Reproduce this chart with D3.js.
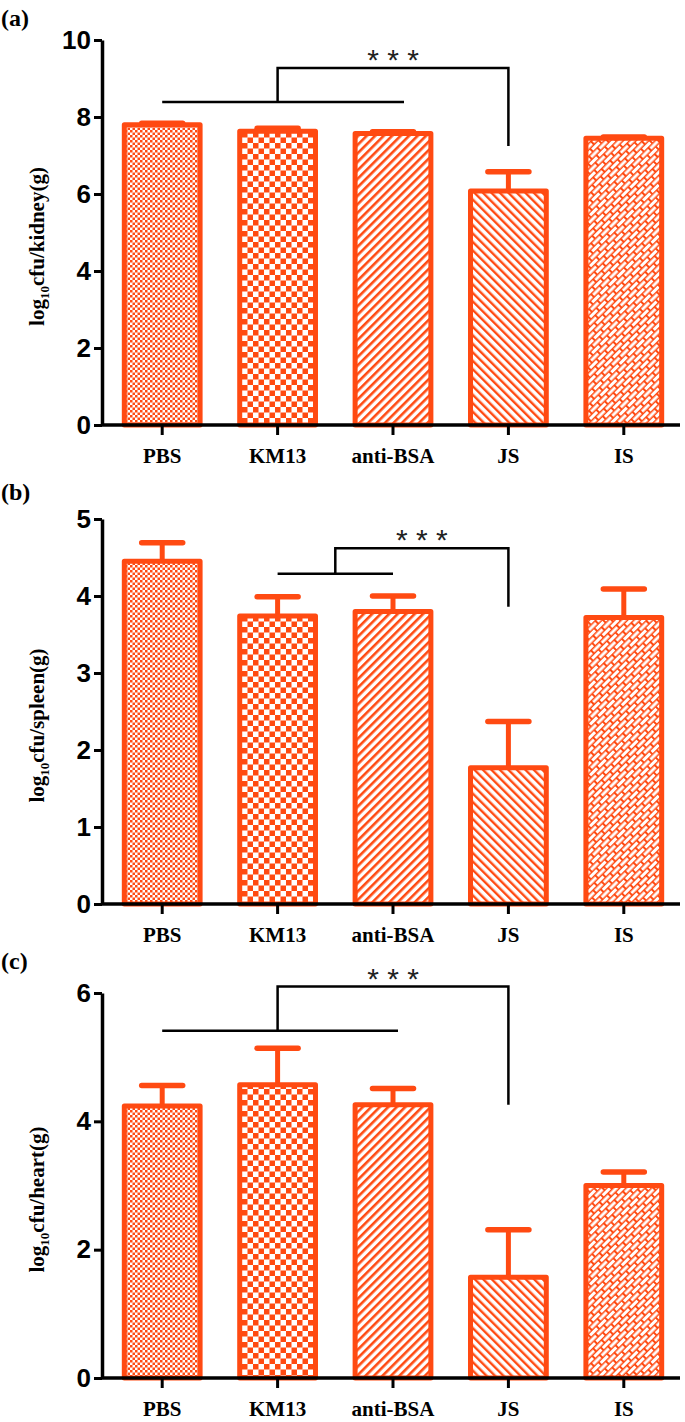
<!DOCTYPE html>
<html>
<head>
<meta charset="utf-8">
<script src="https://cdn.jsdelivr.net/npm/d3@7"></script>
<style>
  body { margin: 0; background: #fff; }
  svg { display: block; }
</style>
</head>
<body>
<svg id="chart" width="685" height="1422"></svg>
<script>
// ---------------- DATA ----------------
const categories = ["PBS", "KM13", "anti-BSA", "JS", "IS"];

const kidneyMeans = [7.80, 7.63, 7.57, 6.08, 7.45];
const kidneyErrors = [0.04, 0.08, 0.05, 0.50, 0.03];
const kidneyTicks = [0, 2, 4, 6, 8, 10];

const spleenMeans = [4.45, 3.74, 3.80, 1.77, 3.72];
const spleenErrors = [0.24, 0.25, 0.20, 0.60, 0.37];
const spleenTicks = [0, 1, 2, 3, 4, 5];

const heartMeans = [4.24, 4.57, 4.26, 1.57, 3.00];
const heartErrors = [0.32, 0.57, 0.25, 0.74, 0.21];
const heartTicks = [0, 2, 4, 6];

// significance brackets: group (from..to) vs target, heights in data units
const kidneyBracket = { from: "PBS", to: "anti-BSA", target: "JS", low: 8.39, high: 9.27, end: 7.25, label: "* * *" };
const spleenBracket = { from: "KM13", to: "anti-BSA", target: "JS", low: 4.29, high: 4.62, end: 3.86, label: "* * *" };
const heartBracket  = { from: "PBS", to: "anti-BSA", target: "JS", low: 5.41, high: 6.10, end: 4.26, label: "* * *" };

// ---------------- STYLE / LAYOUT ----------------
const ORANGE = "#FF4A12";
const W = 685, H = 1422;
const axisX = 102, axisRight = 680, plotH = 385;

const panels = [
  { tag: "(a)", organ: "kidney", means: kidneyMeans, errs: kidneyErrors, ticks: kidneyTicks, top: 40,  tagY: 26,  bracket: kidneyBracket, lowExtend: 11 },
  { tag: "(b)", organ: "spleen", means: spleenMeans, errs: spleenErrors, ticks: spleenTicks, top: 519, tagY: 500, bracket: spleenBracket, lowExtend: 0 },
  { tag: "(c)", organ: "heart",  means: heartMeans,  errs: heartErrors,  ticks: heartTicks,  top: 993, tagY: 969, bracket: heartBracket, lowExtend: 5 }
];

const svg = d3.select("#chart");
svg.append("rect").attr("width", W).attr("height", H).attr("fill", "#fff");
const defs = svg.append("defs");

// ---------------- PATTERNS ----------------
function makePattern(id, w, h, transform, draw) {
  const p = defs.append("pattern")
    .attr("id", id).attr("patternUnits", "userSpaceOnUse")
    .attr("width", w).attr("height", h);
  if (transform) p.attr("patternTransform", transform);
  draw(p);
}
// PBS: fine checkerboard
makePattern("pFine", 5, 5, null, p => {
  p.append("rect").attr("width", 5).attr("height", 5).attr("fill", "#fff");
  p.append("rect").attr("width", 2.5).attr("height", 2.5).attr("fill", ORANGE);
  p.append("rect").attr("x", 2.5).attr("y", 2.5).attr("width", 2.5).attr("height", 2.5).attr("fill", ORANGE);
});
// KM13: coarse checkerboard
makePattern("pCheck", 11, 11, null, p => {
  p.append("rect").attr("width", 11).attr("height", 11).attr("fill", "#fff");
  p.append("rect").attr("width", 5.5).attr("height", 5.5).attr("fill", ORANGE);
  p.append("rect").attr("x", 5.5).attr("y", 5.5).attr("width", 5.5).attr("height", 5.5).attr("fill", ORANGE);
});
// anti-BSA: "/" hatch
makePattern("pFwd", 6, 6, "rotate(45)", p => {
  p.append("rect").attr("width", 6).attr("height", 6).attr("fill", "#fff");
  p.append("rect").attr("width", 2.6).attr("height", 6).attr("fill", ORANGE);
});
// JS: "\" hatch
makePattern("pBack", 6, 6, "rotate(-45)", p => {
  p.append("rect").attr("width", 6).attr("height", 6).attr("fill", "#fff");
  p.append("rect").attr("width", 2.4).attr("height", 6).attr("fill", ORANGE);
});
// IS: diagonal brick
makePattern("pBrick", 12, 9, "rotate(-45)", p => {
  p.append("rect").attr("width", 12).attr("height", 9).attr("fill", ORANGE);
  p.append("rect").attr("x", 1).attr("y", 1).attr("width", 10).attr("height", 3).attr("fill", "#fff");
  p.append("rect").attr("x", 7).attr("y", 5.5).attr("width", 5).attr("height", 3).attr("fill", "#fff");
  p.append("rect").attr("x", 0).attr("y", 5.5).attr("width", 5).attr("height", 3).attr("fill", "#fff");
});
const patternIds = ["pFine", "pCheck", "pFwd", "pBack", "pBrick"];

// ---------------- SCALES ----------------
const x = d3.scaleBand()
  .domain(categories)
  .range([104.5, 681.5])
  .paddingInner(0.3)
  .paddingOuter(0.15);
const cx = c => x(c) + x.bandwidth() / 2;

const barStroke = 5;

panels.forEach(pn => {
  const yMax = d3.max(pn.ticks);
  const y = d3.scaleLinear().domain([0, yMax]).range([pn.top + plotH, pn.top]);
  const g = svg.append("g");
  const rows = categories.map((c, i) => ({ cat: c, mean: pn.means[i], err: pn.errs[i], pat: patternIds[i] }));

  // error bars (upper only)
  const eb = g.selectAll(".eb").data(rows).enter().append("g");
  eb.append("line")
    .attr("x1", d => cx(d.cat)).attr("x2", d => cx(d.cat))
    .attr("y1", d => y(d.mean)).attr("y2", d => y(d.mean + d.err))
    .attr("stroke", ORANGE).attr("stroke-width", 5);
  eb.append("line")
    .attr("x1", d => cx(d.cat) - 20.5).attr("x2", d => cx(d.cat) + 20.5)
    .attr("y1", d => y(d.mean + d.err)).attr("y2", d => y(d.mean + d.err))
    .attr("stroke", ORANGE).attr("stroke-width", 5.5).attr("stroke-linecap", "round");

  // bars
  g.selectAll(".bar").data(rows).enter().append("rect")
    .attr("x", d => x(d.cat) + barStroke / 2)
    .attr("width", x.bandwidth() - barStroke)
    .attr("y", d => y(d.mean))
    .attr("height", d => y(0) - y(d.mean))
    .attr("fill", d => `url(#${d.pat})`)
    .attr("stroke", ORANGE)
    .attr("stroke-width", barStroke)
    .attr("stroke-linejoin", "round");

  // y axis
  const ya = g.append("g").attr("transform", `translate(${axisX},0)`)
    .call(d3.axisLeft(y).tickValues(pn.ticks).tickSize(8).tickSizeOuter(0).tickPadding(3).tickFormat(d3.format("d")));
  ya.select(".domain").attr("stroke", "#000").attr("stroke-width", 3.5);
  ya.selectAll(".tick line").attr("stroke", "#000").attr("stroke-width", 3);
  ya.selectAll(".tick text")
    .attr("fill", "#000")
    .style("font-family", "'Liberation Sans', Arial, sans-serif")
    .style("font-weight", "bold")
    .style("font-size", "26px");

  // x axis
  const xa = g.append("g").attr("transform", `translate(0,${y(0)})`)
    .call(d3.axisBottom(x).tickSize(10).tickSizeOuter(0).tickPadding(13));
  xa.select(".domain").remove();
  xa.append("line").attr("x1", axisX).attr("x2", axisRight).attr("y1", 0).attr("y2", 0)
    .attr("stroke", "#000").attr("stroke-width", 3.5);
  xa.selectAll(".tick line").attr("stroke", "#000").attr("stroke-width", 3);
  xa.selectAll(".tick text")
    .attr("fill", "#000")
    .style("font-family", "'Liberation Serif', 'Times New Roman', serif")
    .style("font-weight", "bold")
    .style("font-size", "21px");

  // y title
  const t = g.append("text")
    .attr("transform", `translate(44,${pn.top + plotH / 2 + 14}) rotate(-90)`)
    .attr("text-anchor", "middle")
    .style("font-family", "'Liberation Serif', 'Times New Roman', serif")
    .style("font-weight", "bold")
    .style("font-size", "21px");
  t.append("tspan").text("log");
  t.append("tspan").attr("dy", 5).style("font-size", "13px").text("10");
  t.append("tspan").attr("dy", -5).text(`cfu/${pn.organ}(g)`);

  // panel tag
  g.append("text").attr("x", 1).attr("y", pn.tagY).text(pn.tag)
    .style("font-family", "'Liberation Serif', 'Times New Roman', serif")
    .style("font-weight", "bold")
    .style("font-size", "24px");

  // significance bracket
  const b = pn.bracket;
  const x1 = cx(b.from), x2 = cx(b.to), xm = (x1 + x2) / 2, xt = cx(b.target);
  const path = d3.path();
  path.moveTo(x1, y(b.low)); path.lineTo(x2 + pn.lowExtend, y(b.low));
  path.moveTo(xm, y(b.low)); path.lineTo(xm, y(b.high)); path.lineTo(xt, y(b.high)); path.lineTo(xt, y(b.end));
  g.append("path").attr("d", path.toString()).attr("fill", "none").attr("stroke", "#000").attr("stroke-width", 2.5);
  g.append("text")
    .attr("x", (xm + xt) / 2).attr("y", y(b.high) + 2)
    .attr("text-anchor", "middle")
    .style("font-family", "'Liberation Sans', Arial, sans-serif")
    .style("font-size", "30px")
    .attr("fill", "#222")
    .text(b.label);
});
</script>
</body>
</html>
